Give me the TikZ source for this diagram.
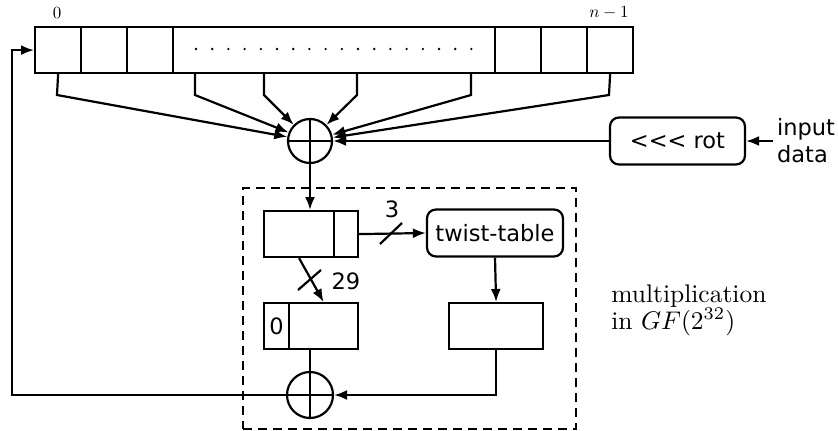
\documentclass[tikz,border=0pt]{standalone}
\usepackage{fontspec}
\newfontfamily\dv{DejaVu Sans}
\usetikzlibrary{arrows.meta}
\begin{document}
\begin{tikzpicture}[x=1pt,y=-1pt, line width=2.2pt,
  cell/.style={draw, minimum height=46pt, inner sep=0pt, anchor=north west},
  xorc/.style={draw, circle, minimum size=44pt, inner sep=0pt},
  rbox/.style={draw, rounded corners=9pt, minimum height=47pt, inner sep=0pt, font=\dv\fontsize{22.5}{27}\selectfont},
  sans/.style={font=\dv\fontsize{22.5}{27}\selectfont},
  serif/.style={font=\fontsize{10}{10.6}\selectfont, scale=2.55},
  idx/.style={font=\fontsize{10}{12}\selectfont, scale=1.7},
  arr/.style={-{Latex[length=13pt,width=10pt]}},
  dashbox/.style={draw, dash pattern=on 9pt off 6pt, anchor=north west, inner sep=0pt}]
\useasboundingbox (0,0) rectangle (838,431);
% register
\node[cell, minimum width=46pt] (c0) at (34,26) {};
\node[cell, minimum width=46pt] (c1) at (80,26) {};
\node[cell, minimum width=46pt] (c2) at (126,26) {};
\node[cell, minimum width=322pt] (cd) at (172,26) {};
\node[cell, minimum width=46pt] (c3) at (494,26) {};
\node[cell, minimum width=46pt] (c4) at (540,26) {};
\node[cell, minimum width=46pt] (c5) at (586,26) {};
\foreach \i in {0,...,17} \fill (196+\i*16.2,49) circle (1.3pt);
\node[idx] (l0) at (57,13) {$0$};
\node[idx] (ln) at (609,13) {$n-1$};
% upper xor
\node[xorc] (x1) at (310,141) {};
\draw (x1.north) -- (x1.south) (x1.west) -- (x1.east);
% taps
\coordinate (t0) at (57,95);
\coordinate (t1) at (195,95);
\coordinate (t2) at (264,95);
\coordinate (t3) at (357,95);
\coordinate (t4) at (471,95);
\coordinate (t5) at (609,95);
\draw[arr] (c0.south) -- (t0) -- (x1);
\draw[arr] (t1 |- cd.south) -- (t1) -- (x1);
\draw[arr] (t2 |- cd.south) -- (t2) -- (x1);
\draw[arr] (t3 |- cd.south) -- (t3) -- (x1);
\draw[arr] (t4 |- cd.south) -- (t4) -- (x1);
\draw[arr] (c5.south) -- (t5) -- (x1);
% rot and input
\node[rbox, minimum width=135pt] (rot) at (677.5,141) {<<< rot};
\draw[arr] (rot.west) -- (x1.east);
\node[sans, align=left, anchor=west, inner sep=3pt] (inp) at (773,141) {input\\data};
\draw[arr] (inp.west) -- (rot.east);
% multiplication box
\node[dashbox, minimum width=333pt, minimum height=241pt] (mul) at (242,187) {};
\node[serif, align=left, anchor=west] (mt) at (600,310) {multiplication\\in $GF(2^{32})$};
\node[cell, minimum width=70pt] (ua) at (263,210) {};
\node[cell, minimum width=24pt] (ub) at (333,210) {};
\draw[arr] (x1.south) -- (x1.south |- ua.north);
\node[rbox, minimum width=136pt] (tw) at (495,233) {twist-table};
\draw[arr] (ub.east) -- (tw.west);
\draw (380,244) -- (402,223);
\node[sans] (n3) at (392,209) {3};
\node[cell, minimum width=25pt, font=\dv\fontsize{22.5}{27}\selectfont] (la) at (263,302) {0};
\node[cell, minimum width=69pt] (lb) at (288,302) {};
\draw[arr] (ua.south) -- (lb.north);
\draw (298,290) -- (321,270);
\node[sans] (n29) at (346,281) {29};
\node[cell, minimum width=94pt] (rb) at (448,302) {};
\draw[arr] (tw.south) -- (rb.north);
% lower xor
\node[xorc, minimum size=46pt] (x2) at (310,395) {};
\draw (x2.north) -- (x2.south) (x2.west) -- (x2.east);
\draw (x2.north |- lb.south) -- (x2.north);
\draw[arr] (rb.south) |- (x2.east);
\coordinate (fb) at (12,395);
\draw[arr] (x2.west) -- (fb) |- (c0.west);
\end{tikzpicture}
\end{document}
